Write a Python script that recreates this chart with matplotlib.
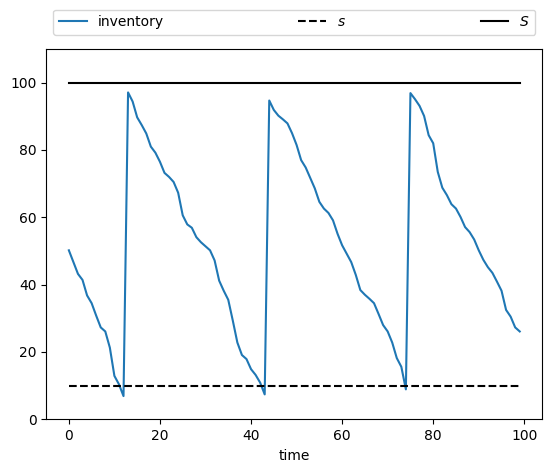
import numpy as np
import matplotlib
matplotlib.use('Agg')
import matplotlib.pyplot as plt

########## data ##########
s = 10
S = 100
inventory = [
    50.2, 46.7, 43.2, 41.4, 36.8, 34.5, 30.8, 27.3, 26.1, 21.3,
    12.9, 10.4, 6.9, 97.1, 94.4, 89.7, 87.4, 84.9, 81.0, 79.2,
    76.5, 73.2, 72.0, 70.5, 67.3, 60.6, 57.9, 56.9, 54.1, 52.6,
    51.4, 50.2, 47.2, 41.2, 38.2, 35.5, 29.3, 22.8, 19.1, 17.9,
    14.9, 13.2, 10.9, 7.4, 94.7, 91.9, 90.2, 89.1, 87.9, 85.0,
    81.5, 77.0, 74.8, 71.7, 68.6, 64.6, 62.6, 61.3, 59.1, 55.1,
    51.7, 49.2, 46.7, 42.9, 38.4, 37.0, 35.8, 34.5, 31.3, 28.0,
    26.1, 22.8, 18.2, 15.6, 8.9, 96.9, 95.1, 93.1, 90.1, 84.4,
    82.0, 73.5, 68.8, 66.6, 63.9, 62.6, 60.1, 57.1, 55.6, 53.4,
    50.2, 47.4, 45.2, 43.5, 40.9, 38.2, 32.5, 30.5, 27.3, 26.1,
]
time = np.arange(len(inventory))

########## plot ##########
fig = plt.figure(figsize=(5.52, 4.72), dpi=100)
ax = fig.add_axes([0.0839, 0.1116, 0.8985, 0.7846])

ax.plot(time, inventory, label='inventory')
ax.plot(time, s * np.ones(len(time)), 'k--', label='$s$')
ax.plot(time, S * np.ones(len(time)), 'k-', label='$S$')
ax.set_ylim(0, S + 10)
ax.set_xlabel('time')
ax.legend(bbox_to_anchor=(0., 1.02, 1., .102), loc=3, ncol=3, mode='expand')

plt.savefig('out.png')
